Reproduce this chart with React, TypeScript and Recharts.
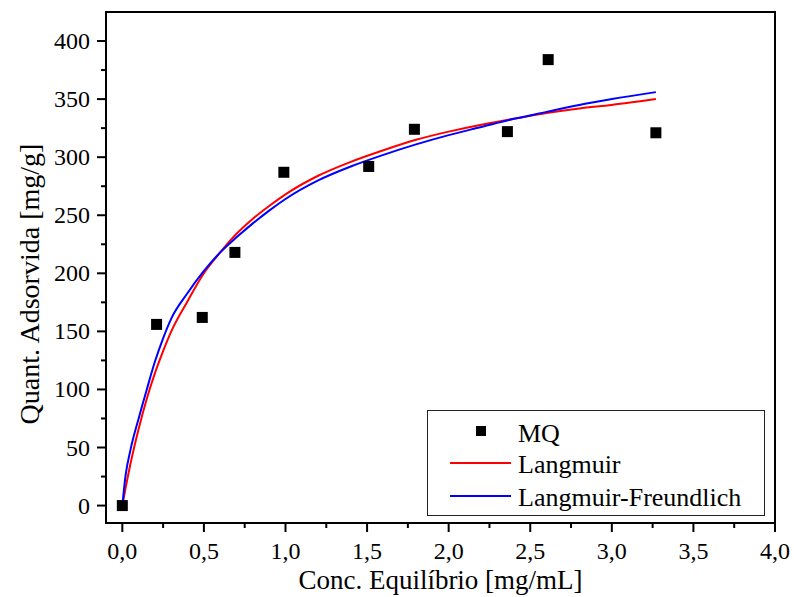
import React from "react";
import {
  ComposedChart,
  Scatter,
  Line,
  XAxis,
  YAxis,
  ReferenceArea,
  Legend,
} from "recharts";

// measured points (MQ)
const mqX = [0, 0.21, 0.49, 0.69, 0.99, 1.51, 1.79, 2.36, 2.61, 3.27];
const mqY = [0, 156, 162, 218, 287, 292, 324, 322, 384, 321];

// fitted curves
const fitX = [0, 0.02, 0.05, 0.1, 0.15, 0.2, 0.25, 0.3, 0.4, 0.5, 0.6, 0.7, 0.8, 0.9, 1.0, 1.2, 1.4, 1.6, 1.8, 2.0, 2.2, 2.4, 2.6, 2.8, 3.0, 3.27];
const langmuirY = [0, 15, 36, 66, 92, 114, 133, 150, 176, 200, 218, 234, 247, 258, 268, 284, 296, 306, 315, 322, 328, 333, 338, 342, 345, 350];
const lfY = [0, 26, 48, 75, 100, 124, 144, 161, 183, 202, 218, 231, 243, 254, 264, 280, 292, 302, 311, 319, 326, 333, 339, 345, 350, 356];

const xTicks = [0, 0.25, 0.5, 0.75, 1, 1.25, 1.5, 1.75, 2, 2.25, 2.5, 2.75, 3, 3.25, 3.5, 3.75, 4];
const yTicks = [0, 25, 50, 75, 100, 125, 150, 175, 200, 225, 250, 275, 300, 325, 350, 375, 400];

const mqData = mqX.map((x, i) => ({ x, y: mqY[i] }));
const langmuirData = fitX.map((x, i) => ({ x, y: langmuirY[i] }));
const lfData = fitX.map((x, i) => ({ x, y: lfY[i] }));

const FONT = "'Times New Roman', 'Liberation Serif', serif";

const fmt = (v: number) => v.toFixed(1).replace(".", ",");

const XTick = ({ x, y, payload }: any) => {
  const v = payload.value;
  const major = Math.abs(v * 2 - Math.round(v * 2)) < 1e-6;
  return (
    <g>
      <line x1={x} y1={y} x2={x} y2={y + (major ? 9 : 5)} stroke="#000" strokeWidth={2} />
      {major && (
        <text x={x} y={y + 36} textAnchor="middle" fontSize={24} fontFamily={FONT} fill="#000">
          {fmt(v)}
        </text>
      )}
    </g>
  );
};

const YTick = ({ x, y, payload }: any) => {
  const v = payload.value;
  const major = v % 50 === 0;
  return (
    <g>
      <line x1={x} y1={y} x2={x - (major ? 9 : 5)} y2={y} stroke="#000" strokeWidth={2} />
      {major && (
        <text x={x - 16} y={y + 8} textAnchor="end" fontSize={24} fontFamily={FONT} fill="#000">
          {v}
        </text>
      )}
    </g>
  );
};

const YTitle = () => (
  <text
    x={39}
    y={284}
    transform="rotate(-90, 39, 284)"
    textAnchor="middle"
    fontSize={28}
    fontFamily={FONT}
    fill="#000"
  >
    Quant. Adsorvida [mg/g]
  </text>
);

const Square = ({ cx, cy }: any) => (
  <rect x={cx - 5.5} y={cy - 5.5} width={11} height={11} fill="#000" />
);

const LegendBox = () => (
  <svg width={338} height={106} style={{ display: "block" }}>
    <rect x={0.5} y={0.5} width={337} height={105} fill="#fff" stroke="#222" strokeWidth={1} />
    <rect x={49} y={16} width={10} height={10} fill="#000" />
    <text x={91} y={32} fontSize={26} fontFamily={FONT} fill="#000">MQ</text>
    <line x1={23} y1={53} x2={84} y2={53} stroke="#ff0000" strokeWidth={2} />
    <text x={91} y={63} fontSize={26} fontFamily={FONT} fill="#000">Langmuir</text>
    <line x1={23} y1={86} x2={84} y2={86} stroke="#0000ff" strokeWidth={2} />
    <text x={91} y={96} fontSize={26} fontFamily={FONT} fill="#000">Langmuir-Freundlich</text>
  </svg>
);

export default function App() {
  return (
    <div style={{ position: "absolute", left: 0, top: 0, background: "#fff" }}>
      <ComposedChart
        width={794}
        height={597}
        margin={{ top: 12, right: 19, left: 0, bottom: 0 }}
      >
        <XAxis
          dataKey="x"
          type="number"
          domain={[-0.1, 4]}
          ticks={xTicks}
          interval={0}
          allowDataOverflow
          axisLine={false}
          tickLine={false}
          tickSize={0}
          tickMargin={0}
          tick={<XTick />}
          height={74}
          label={{
            value: "Conc. Equilíbrio [mg/mL]",
            position: "insideBottom",
            offset: 8,
            fontSize: 27,
            fontFamily: FONT,
            fill: "#000",
          }}
        />
        <YAxis
          dataKey="y"
          type="number"
          domain={[-15, 425]}
          ticks={yTicks}
          interval={0}
          allowDataOverflow
          axisLine={false}
          tickLine={false}
          tickSize={0}
          tickMargin={0}
          tick={<YTick />}
          width={106}
          label={<YTitle />}
        />
        <ReferenceArea
          x1={-0.1}
          x2={4}
          y1={-15}
          y2={425}
          fill="none"
          stroke="#000"
          strokeWidth={2}
          ifOverflow="visible"
        />
        <Scatter data={mqData} dataKey="y" shape={<Square />} isAnimationActive={false} />
        <Line
          data={langmuirData}
          dataKey="y"
          type="monotone"
          stroke="#ff0000"
          strokeWidth={2}
          dot={false}
          activeDot={false}
          isAnimationActive={false}
        />
        <Line
          data={lfData}
          dataKey="y"
          type="monotone"
          stroke="#0000ff"
          strokeWidth={2}
          dot={false}
          activeDot={false}
          isAnimationActive={false}
        />
        <Legend
          layout="vertical"
          align="center"
          verticalAlign="middle"
          content={<LegendBox />}
          wrapperStyle={{ left: 427, top: 410, width: 338, height: 106 }}
        />
      </ComposedChart>
    </div>
  );
}
